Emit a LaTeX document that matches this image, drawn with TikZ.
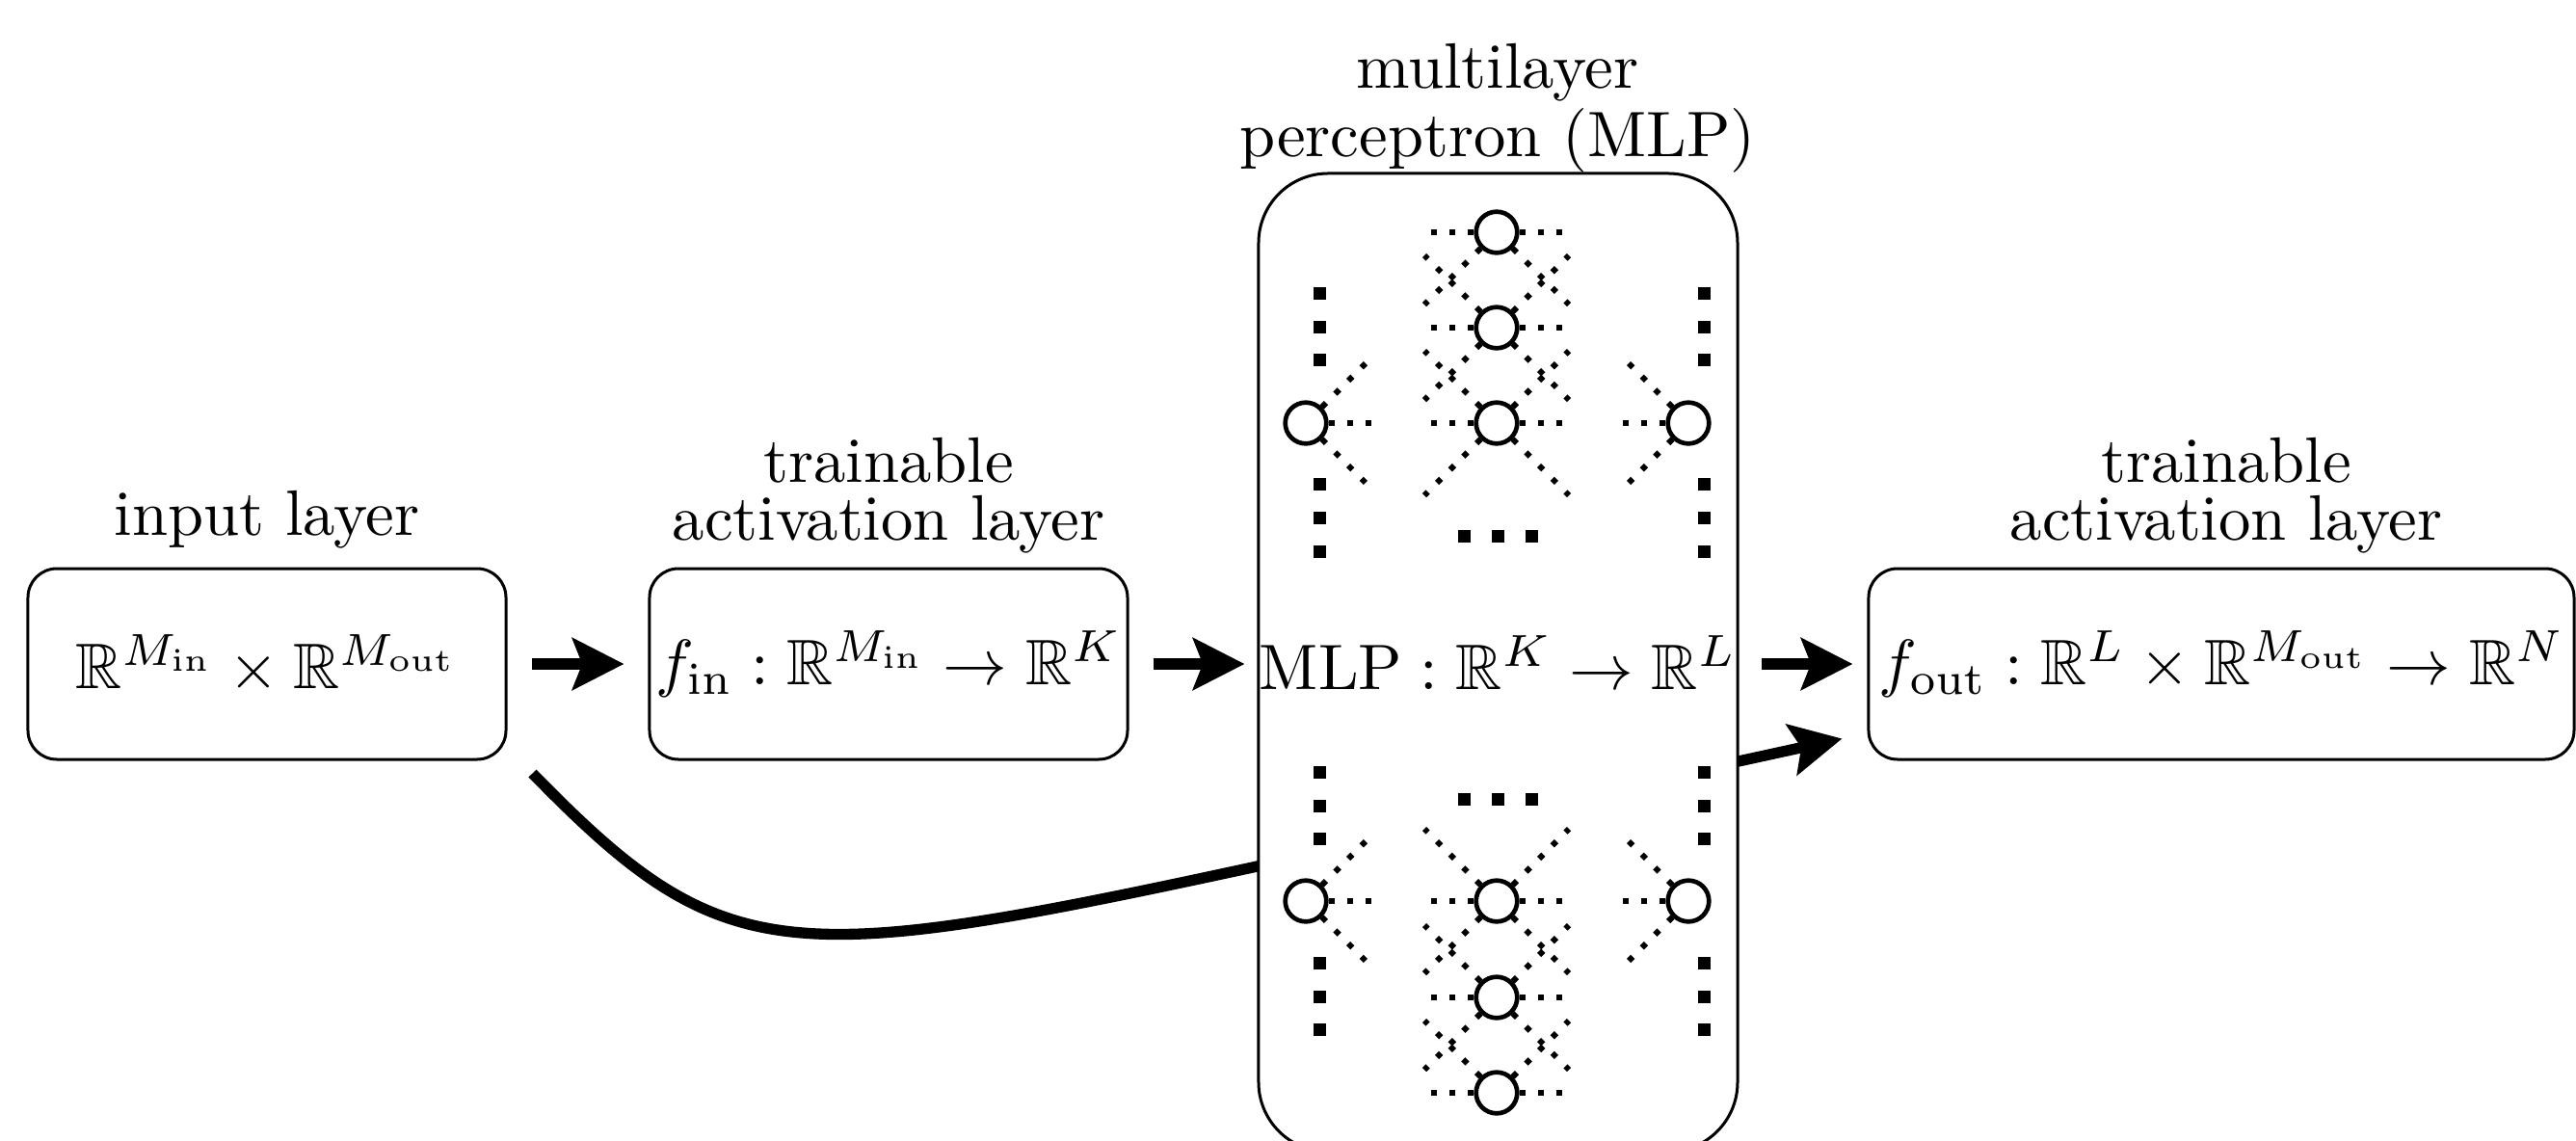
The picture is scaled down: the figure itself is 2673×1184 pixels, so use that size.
\documentclass[tikz,border=0pt]{standalone}
\usepackage{amsmath,amssymb}
\usetikzlibrary{arrows.meta}
\tikzset{
  box/.style={draw, rounded corners=4.5pt, line width=0.45pt, minimum width=74.4pt, minimum height=29.7pt, inner sep=0pt},
  lbl/.style={align=center, anchor=base, font=\fontsize{10}{9}\selectfont},
  neuron/.style={circle, draw, line width=0.7pt, fill=white, minimum size=6.4pt, inner sep=0pt},
  stub/.style={dotted, line width=0.9pt},
  bigarrow/.style={line width=1.7pt, -{Stealth[length=8pt,width=8pt,inset=1.5pt]}},
}
\begin{document}
\begin{tikzpicture}[x=0.15pt,y=-0.15pt]
\useasboundingbox (0,0) rectangle (2673,1184);
% boxes
\node[box] (inbox) at (277,689) {$\mathbb{R}^{M_{\mathrm{in}}}\times\mathbb{R}^{M_{\mathrm{out}}}$};
\node[box] (act1) at (922,689) {$f_{\mathrm{in}}:\mathbb{R}^{M_{\mathrm{in}}}\to\mathbb{R}^{K}$};
\node[box, minimum width=109.8pt] (act2) at (2305,689) {$f_{\mathrm{out}}:\mathbb{R}^{L}\times\mathbb{R}^{M_{\mathrm{out}}}\to\mathbb{R}^{N}$};
% skip connection (behind MLP box)
\coordinate (cs) at ([shift={(26,13)}]inbox.south east);
\coordinate (ce) at ([shift={(-26,-23)}]act2.south west);
\coordinate (cm) at (1300,900);
\draw[bigarrow] (cs) .. controls (750,1005) and (814,1005) .. (cm) -- (ce);
% MLP box
\node[box, rounded corners=10.8pt, minimum width=74.55pt, minimum height=152.25pt, fill=white] (mlp) at (1554.5,687.5) {$\mathrm{MLP}:\mathbb{R}^{K}\to\mathbb{R}^{L}$};
% neurons
\foreach \n/\x/\y in {t1/1553/241, t2/1553/340, t3/1553/439, tl/1355/439, tr/1752/439,
                      b1/1553/935, b2/1553/1035, b3/1553/1134, bl/1355/935, br/1752/935}
  \node[neuron] (\n) at (\x,\y) {};
% stubs
\foreach \n in {t2,t3,b1,b2}
  \foreach \dx/\dy in {-70/0,70/0,-75/-75,-75/75,75/-75,75/75}
    \draw[stub] (\n) -- ++(\dx,\dy);
\foreach \dx/\dy in {-70/0,70/0,-75/75,75/75} \draw[stub] (t1) -- ++(\dx,\dy);
\foreach \dx/\dy in {-70/0,70/0,-75/-75,75/-75} \draw[stub] (b3) -- ++(\dx,\dy);
\foreach \n in {tl,bl}
  \foreach \dx/\dy in {70/0,70/-70,70/70} \draw[stub] (\n) -- ++(\dx,\dy);
\foreach \n in {tr,br}
  \foreach \dx/\dy in {-70/0,-70/-70,-70/70} \draw[stub] (\n) -- ++(\dx,\dy);
% ellipsis squares
\foreach \x in {1369,1768}
  \foreach \y in {304,339,373,502,537,572,801,836,870,999,1034,1068}
    \fill (\x-6.5,\y-6.5) rectangle ++(13,13);
\foreach \x in {1519,1554,1589}
  \foreach \y in {556,829}
    \fill (\x-6.5,\y-6.5) rectangle ++(13,13);
% arrows
\draw[bigarrow, shorten <=3.75pt, shorten >=3.75pt] (inbox.east) -- (act1.west);
\draw[bigarrow, shorten <=3.75pt, shorten >=1.95pt] (act1.east) -- (act1.east -| mlp.west);
\draw[bigarrow, shorten <=3.5pt, shorten >=2.25pt] (mlp.east |- act2.west) -- (act2.west);
% labels
\node[lbl] (lin) at (277,555) {input layer};
\node[lbl] (lact1) at (922,560) {trainable\\activation layer};
\node[lbl] (lmlp) at (1554,162) {multilayer\\perceptron (MLP)};
\node[lbl] (lact2) at (2310,560) {trainable\\activation layer};
\end{tikzpicture}
\end{document}
